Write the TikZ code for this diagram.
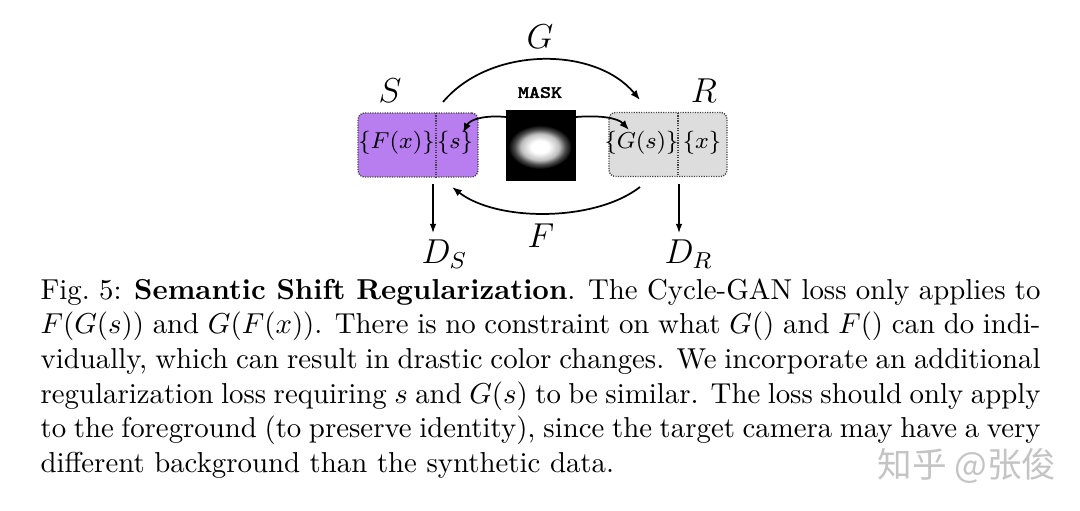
\documentclass[tikz,border=0pt]{standalone}
\usepackage{fontspec}
\usepackage{graphicx}
\newfontfamily\cjkfont{Noto Sans CJK SC}
\newfontfamily\masktt{Latin Modern Mono}[FakeBold=2.2]
\usetikzlibrary{arrows.meta}
\definecolor{spurple}{RGB}{184,126,240}
\definecolor{rgray}{RGB}{221,221,221}
\definecolor{wmark}{RGB}{196,196,196}
\pgfdeclareradialshading{maskglow}{\pgfpoint{0bp}{0bp}}{color(0bp)=(white); color(7bp)=(white); color(15bp)=(white!75!black); color(20bp)=(white!30!black); color(25bp)=(black); color(50bp)=(black)}
\tikzset{
  domainbox/.style={draw=black!75, line width=0.45pt, dash pattern=on 0.4pt off 0.45pt,
    rounded corners=2.2pt, minimum height=22.2pt, inner sep=0pt},
  divider/.style={draw=black!75, line width=0.45pt, dash pattern=on 0.4pt off 0.45pt},
  setlabel/.style={inner sep=0pt, font=\fontsize{8}{9}\selectfont},
  biglabel/.style={inner sep=0pt, font=\fontsize{11.7}{14}\selectfont},
  maparrow/.style={-{Latex[length=3.4pt,width=2.6pt]}, line width=0.6pt},
  discarrow/.style={-{Latex[length=3.2pt,width=2.3pt]}, line width=0.45pt},
}
\begin{document}
\begin{tikzpicture}[x=0.347pt, y=-0.347pt]
\useasboundingbox (0,0) rectangle (1080,510);
\fill[white] (0,0) rectangle (1080,510);

% domain boxes
\node[domainbox, fill=spurple, minimum width=41.6pt] (Sbox) at (418,145) {};
\node[domainbox, fill=rgray, minimum width=40.9pt] (Rbox) at (668,144.5) {};
\draw[divider] (436,113) -- (436,177);
\draw[divider] (678,113) -- (678,176);

\node[setlabel] (Fx) at (396.5,143) {$\{F(x)\}$};
\node[setlabel] (sset) at (455,143) {$\{s\}$};
\node[setlabel] (Gs) at (641.5,143) {$\{G(s)\}$};
\node[setlabel] (xset) at (702,143) {$\{x\}$};

% mask
\node[fill=black, minimum width=24.3pt, minimum height=24.6pt, inner sep=0pt] (M) at (541,145.5) {};
\begin{scope}
  \clip (506,110) rectangle (576,181);
  \shade[shading=maskglow] (540,147) ellipse [x radius=11pt, y radius=7.6pt];
\end{scope}
\node[inner sep=0pt, font=\fontsize{6}{7}\masktt] (masklbl) at (540,92.5) {\scalebox{1.2}[1]{MASK}};

% labels
\node[biglabel] (Slbl) at (390,91) {$S$};
\node[biglabel] (Rlbl) at (704,91) {$R$};
\node[biglabel] (Glbl) at (540,37) {$G$};
\node[biglabel] (Flbl) at (541,236) {$F$};
\node[biglabel, anchor=base west] (DS) at (421,263) {$D_S$};
\node[biglabel, anchor=base west] (DR) at (664,263) {$D_R$};

% connector end points
\coordinate (g1) at (443,102);
\coordinate (g2) at (640,100);
\coordinate (f1) at (640,187);
\coordinate (f2) at (452,187);
\coordinate (ml1) at (506,117);
\coordinate (ml2) at (463,133);
\coordinate (mr1) at (576,117);
\coordinate (mr2) at (629,130);
\coordinate (ds1) at (433,184);
\coordinate (ds2) at (433,233);
\coordinate (dr1) at (679,184);
\coordinate (dr2) at (679,233);

\draw[maparrow] (g1) .. controls (490,46) and (595,46) .. (g2);
\draw[maparrow] (f1) .. controls (595,222) and (497,222) .. (f2);
\draw[maparrow] (ml1) .. controls (486,115) and (470,119) .. (ml2);
\draw[maparrow] (mr1) .. controls (600,115) and (618,118) .. (mr2);
\draw[discarrow] (ds1) -- (ds2);
\draw[discarrow] (dr1) -- (dr2);

% caption
\node[anchor=base west, inner sep=0pt] (cap) at (40,299) {\parbox[t]{347pt}{\fontsize{10}{12.04}\selectfont
Fig.~5: \textbf{Semantic Shift Regularization}. The Cycle-GAN loss only applies to\linebreak
$F(G(s))$ and $G(F(x))$. There is no constraint on what $G()$ and $F()$ can do indi-\linebreak
vidually, which can result in drastic color changes. We incorporate an additional\linebreak
regularization loss requiring $s$ and $G(s)$ to be similar. The loss should only apply\linebreak
to the foreground (to preserve identity), since the target camera may have a very\linebreak
different background than the synthetic data.}};

% watermark
\node[inner sep=0pt, text=wmark, font=\cjkfont\fontsize{12}{14}\selectfont] (wm) at (967,466) {知乎 @张俊};
\end{tikzpicture}
\end{document}
